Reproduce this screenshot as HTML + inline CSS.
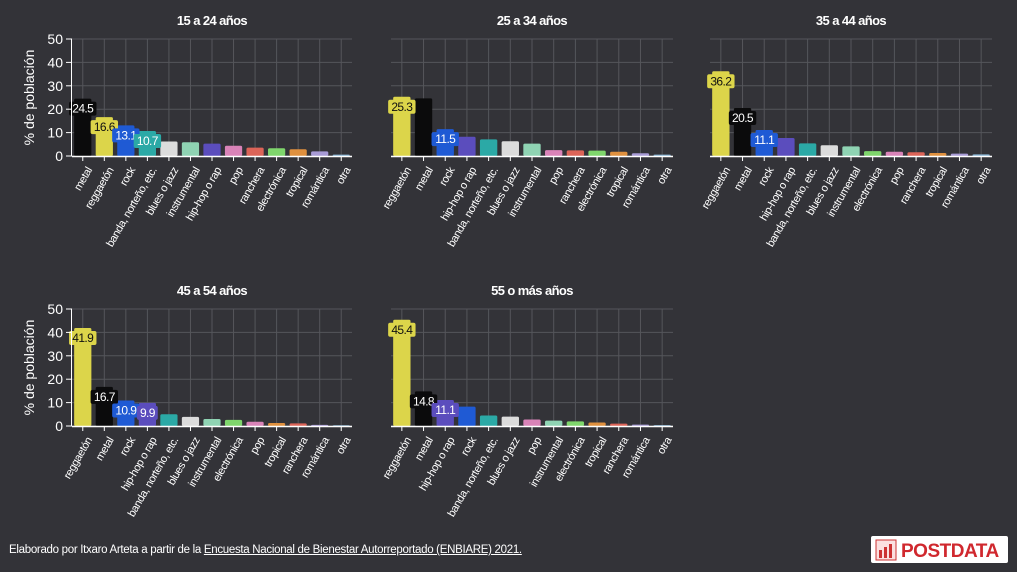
<!DOCTYPE html>
<html><head><meta charset="utf-8">
<style>
html,body{margin:0;padding:0;background:#333338;}
body{width:1017px;height:572px;overflow:hidden;position:relative;font-family:"Liberation Sans",sans-serif;}
svg text{font-family:"Liberation Sans",sans-serif;}
.foot{position:absolute;left:9px;top:544px;color:#fff;font-size:11.5px;letter-spacing:-0.3px;}
.foot u{color:#fff;}
.logo{position:absolute;left:871px;top:536px;width:137px;height:27px;background:#fff;border-radius:2px;}
</style></head>
<body>
<svg id="chart" width="1017" height="540" style="position:absolute;left:0;top:0"></svg>
<div class="foot">Elaborado por Itxaro Arteta a partir de la <u>Encuesta Nacional de Bienestar Autorreportado (ENBIARE) 2021.</u></div>
<div class="logo">
<svg width="137" height="27"><rect x="5" y="4" width="20" height="20" fill="#fbe0e0" stroke="#c33" stroke-width="1"/><rect x="8" y="14" width="3" height="8" fill="#c33"/><rect x="13" y="11" width="3" height="11" fill="#c33"/><rect x="18" y="8" width="3" height="14" fill="#c33"/><text x="30" y="21" fill="#d0282e" font-size="19" font-weight="bold" letter-spacing="-0.5">POSTDATA</text></svg>
</div>
<script>
const colors = {"metal":"#0b0b0c","reggaetón":"#dcd54a","rock":"#1f5ad4","banda, norteño, etc.":"#2ba9a6","blues o jazz":"#dcdcdc","instrumental":"#8fd3b3","hip-hop o rap":"#5b4dbd","pop":"#d983b8","ranchera":"#dc6458","electrónica":"#7fd66c","tropical":"#df903e","romántica":"#a89bd6","otra":"#89b6d6"};
const titles = ["15 a 24 años","25 a 34 años","35 a 44 años","45 a 54 años","55 o más años"];
const cats1 = ["metal","reggaetón","rock","banda, norteño, etc.","blues o jazz","instrumental","hip-hop o rap","pop","ranchera","electrónica","tropical","romántica","otra"];
const vals1 = [24.5,16.6,13.1,10.7,6.2,5.9,5.3,4.4,3.6,3.3,2.9,2.0,0.6];
const lab1 = [1,1,1,1,0,0,0,0,0,0,0,0,0];
const cats2 = ["reggaetón","metal","rock","hip-hop o rap","banda, norteño, etc.","blues o jazz","instrumental","pop","ranchera","electrónica","tropical","romántica","otra"];
const vals2 = [25.3,24.6,11.5,8.2,7.1,6.3,5.3,2.5,2.4,2.3,1.8,1.2,0.6];
const lab2 = [1,0,1,0,0,0,0,0,0,0,0,0,0];
const cats3 = ["reggaetón","metal","rock","hip-hop o rap","banda, norteño, etc.","blues o jazz","instrumental","electrónica","pop","ranchera","tropical","romántica","otra"];
const vals3 = [36.2,20.5,11.1,7.7,5.4,4.6,4.1,2.1,1.8,1.6,1.3,1.0,0.7];
const lab3 = [1,1,1,0,0,0,0,0,0,0,0,0,0];
const cats4 = ["reggaetón","metal","rock","hip-hop o rap","banda, norteño, etc.","blues o jazz","instrumental","electrónica","pop","tropical","ranchera","romántica","otra"];
const vals4 = [41.9,16.7,10.9,9.9,5.0,3.9,3.0,2.6,1.8,1.3,1.1,0.5,0.3];
const lab4 = [1,1,1,1,0,0,0,0,0,0,0,0,0];
const cats5 = ["reggaetón","metal","hip-hop o rap","rock","banda, norteño, etc.","blues o jazz","pop","instrumental","electrónica","tropical","ranchera","romántica","otra"];
const vals5 = [45.4,14.8,11.1,8.3,4.5,4.0,2.8,2.3,2.0,1.5,1.0,0.6,0.4];
const lab5 = [1,1,1,0,0,0,0,0,0,0,0,0,0];
const yTicks = [0,10,20,30,40,50];

const panels = [
 {x0:72,x1:352,y0:156,y1:39,cats:cats1,vals:vals1,lab:lab1,axis:true},
 {x0:391,x1:673,y0:156,y1:39,cats:cats2,vals:vals2,lab:lab2,axis:false},
 {x0:710,x1:992,y0:156,y1:39,cats:cats3,vals:vals3,lab:lab3,axis:false},
 {x0:72,x1:352,y0:426,y1:309,cats:cats4,vals:vals4,lab:lab4,axis:true},
 {x0:391,x1:673,y0:426,y1:309,cats:cats5,vals:vals5,lab:lab5,axis:false}
];
const svg = document.getElementById('chart');
const NS = "http://www.w3.org/2000/svg";
function mk(tag, at, parent){const e=document.createElementNS(NS,tag);for(const k in at)e.setAttribute(k,at[k]);(parent||svg).appendChild(e);return e;}
function lum(c){const r=parseInt(c.substr(1,2),16),g=parseInt(c.substr(3,2),16),b=parseInt(c.substr(5,2),16);return 0.299*r+0.587*g+0.114*b;}

panels.forEach((p,pi)=>{
  const g = mk('g',{});
  
  
  const n = p.cats.length, bw = (p.x1-p.x0)/n;
  const y = v => p.y0 - v/50*(p.y0-p.y1);
  const xc = i => p.x0 + bw*(i+0.5);
  yTicks.forEach(t=>{
    const l = mk('line',{x1:p.x0,x2:p.x1,y1:y(t),y2:y(t),stroke:"#55565b","stroke-width":1},g);
    
    
  });
  p.cats.forEach((c,i)=>{
    const l = mk('line',{x1:xc(i),x2:xc(i),y1:p.y1,y2:p.y0,stroke:"#55565b","stroke-width":1},g);
    
    
  });
  const t = mk('text',{x:(p.x0+p.x1)/2,y:p.y1-14,"text-anchor":"middle",fill:"#fff","font-size":"13","font-weight":"bold","letter-spacing":"-0.6"},g);
  t.textContent = titles[pi];
  
  
  p.cats.forEach((c,i)=>{
    const h = p.y0 - y(p.vals[i]);
    const b = mk('rect',{x:xc(i)-bw*0.4,y:y(p.vals[i]),width:bw*0.8,height:h,fill:colors[c],rx:1.5},g);
    
    
  });
  p.cats.forEach((c,i)=>{
    if(!p.lab[i]) return;
    const txt = p.vals[i].toFixed(1);
    const ty = y(p.vals[i])+14;
    const w = txt.length*6.6+1;
    const bx = mk('rect',{x:xc(i)-w/2,y:ty-11,width:w,height:14,fill:colors[c],rx:2},g);
    
    
    const lt = mk('text',{x:xc(i),y:ty,"text-anchor":"middle",fill:lum(colors[c])>150?"#111":"#fff","font-size":"12","letter-spacing":"-0.6"},g);
    lt.textContent = txt;
    
    
  });
  const ax = mk('line',{x1:p.x0,x2:p.x1,y1:p.y0+0.5,y2:p.y0+0.5,stroke:"#fff","stroke-width":1.5},g);
  
  
  p.cats.forEach((c,i)=>{
    const tk = mk('line',{x1:xc(i),x2:xc(i),y1:p.y0,y2:p.y0+5,stroke:"#fff"},g);
    
    
    const lx = xc(i)+3, ly = p.y0+10;
    const tl = mk('text',{x:lx,y:ly,"text-anchor":"end",fill:"#fff","font-size":"11","letter-spacing":"-0.4",transform:`rotate(-60 ${lx} ${ly})`,dy:"0.7em"},g);
    tl.textContent = c;
    
    
  });
  if(p.axis){
    const ya = mk('line',{x1:p.x0-0.5,x2:p.x0-0.5,y1:p.y1,y2:p.y0,stroke:"#fff","stroke-width":1},g);
    
    
    yTicks.forEach(v=>{
      const tk = mk('line',{x1:p.x0-6,x2:p.x0,y1:y(v),y2:y(v),stroke:"#fff"},g);
      
      
      const tl = mk('text',{x:p.x0-9,y:y(v)+5,"text-anchor":"end",fill:"#fff","font-size":"14"},g);
      tl.textContent = v;
      
      
    });
    const yt = mk('text',{x:0,y:0,"text-anchor":"middle",fill:"#fff","font-size":"14",transform:`translate(34 ${(p.y0+p.y1)/2}) rotate(-90)`},g);
    yt.textContent = "% de población";
    
    
  }
});
</script>
</body></html>
